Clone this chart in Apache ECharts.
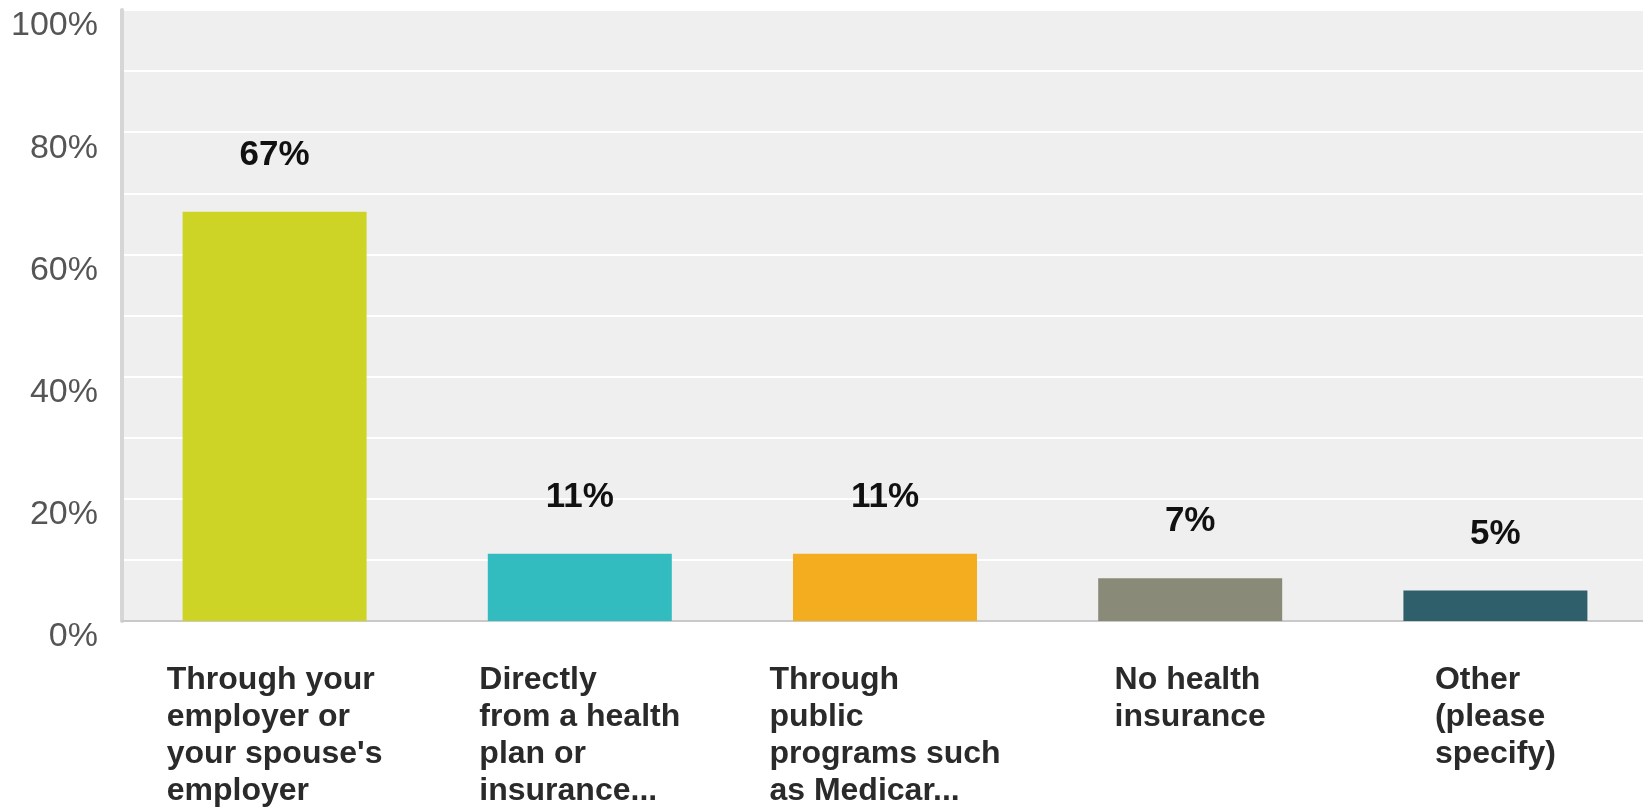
<!DOCTYPE html>
<html>
<head>
<meta charset="utf-8">
<script src="https://cdn.jsdelivr.net/npm/echarts@6/dist/echarts.min.js"></script>
<style>
  html, body { margin: 0; padding: 0; background: #ffffff; }
  #chart { width: 1643px; height: 809px; }
</style>
</head>
<body>
<div id="chart"></div>
<script>
// Survey answers: how respondents get their health insurance
const categories = [
  "Through your\nemployer or\nyour spouse's\nemployer",
  "Directly\nfrom a health\nplan or\ninsurance...",
  "Through\npublic\nprograms such\nas Medicar...",
  "No health\ninsurance",
  "Other\n(please\nspecify)"
];
const percentages = [67, 11, 11, 7, 5];
const barColors = ['#cdd426', '#32bcbf', '#f5ad20', '#8a8a78', '#2e5f6b'];

const FONT = '"Liberation Sans", Arial, Helvetica, sans-serif';

const chart = echarts.init(document.getElementById('chart'), null, { renderer: 'canvas' });

chart.setOption({
  animation: false,
  textStyle: { fontFamily: FONT },
  grid: {
    left: 122,
    top: 10,
    width: 1526,
    bottom: 188,
    outerBoundsMode: 'none',
    show: true,
    backgroundColor: '#efefef',
    borderWidth: 0
  },
  xAxis: {
    type: 'category',
    data: categories,
    axisTick: { show: false },
    axisLine: { show: true, lineStyle: { color: '#c9c9c9', width: 2 } },
    axisLabel: {
      interval: 0,
      margin: 41,
      align: 'center',
      verticalAlign: 'top',
      formatter: (v) => v.split('\n').map(l => '{a|' + l + '}').join('\n'),
      rich: {
        a: {
          align: 'left',
          fontFamily: FONT,
          fontSize: 32,
          fontWeight: 'bold',
          lineHeight: 37,
          color: '#2a2a2a'
        }
      }
    }
  },
  yAxis: {
    type: 'value',
    min: 0,
    max: 100,
    interval: 20,
    axisLine: { show: true, lineStyle: { color: '#d6d6d6', width: 4 } },
    axisTick: { show: false },
    axisLabel: {
      formatter: '{value}%',
      fontFamily: FONT,
      fontSize: 34,
      color: '#555555',
      margin: 24,
      verticalAlign: 'top',
      lineHeight: 32
    },
    splitLine: { show: true, lineStyle: { color: '#ffffff', width: 2 } },
    minorTick: { show: false, splitNumber: 2 },
    minorSplitLine: { show: true, lineStyle: { color: '#ffffff', width: 2 } }
  },
  series: [{
    type: 'bar',
    data: percentages.map((v, i) => ({ value: v, itemStyle: { color: barColors[i] } })),
    barWidth: 184,
    label: {
      show: true,
      position: 'top',
      distance: 39,
      formatter: '{c}%',
      fontFamily: FONT,
      fontSize: 35,
      fontWeight: 'bold',
      color: '#111111'
    }
  }]
});
</script>
</body>
</html>
